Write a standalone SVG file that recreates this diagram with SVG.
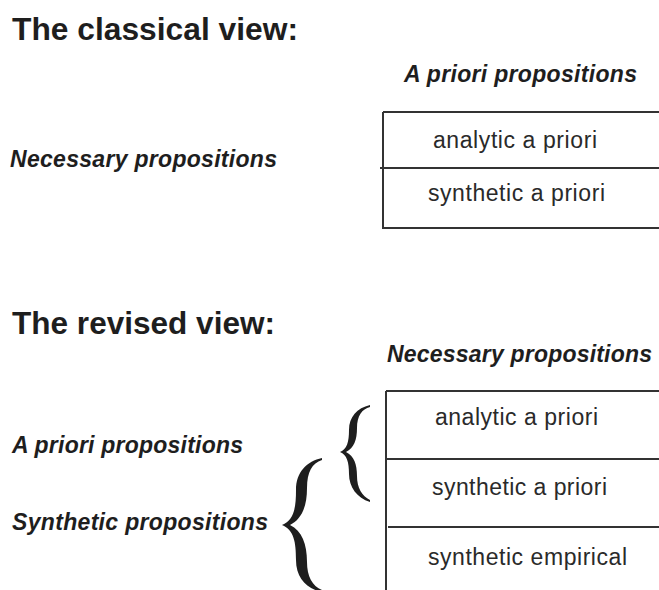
<svg xmlns="http://www.w3.org/2000/svg" width="659" height="590" viewBox="0 0 659 590">
<style>
.h{font-family:"Liberation Sans",Arial,sans-serif;font-weight:bold;font-size:32px;fill:#1e1e1e}
.l{font-family:"Liberation Sans",Arial,sans-serif;font-weight:bold;font-style:italic;font-size:23px;fill:#1e1e1e}
.c{font-family:"Liberation Sans",Arial,sans-serif;font-size:23px;fill:#2a2a2a}
.ln{stroke:#333;stroke-width:2;fill:none}
.br{fill:#1e1e1e;stroke:none}
</style>
<rect width="659" height="590" fill="#fff"/>
<g id="classical">
  <text id="title-classical" class="h" x="12" y="40" textLength="286" lengthAdjust="spacingAndGlyphs">The classical view:</text>
  <text id="label-apriori-top" class="l" x="404" y="82" textLength="233" lengthAdjust="spacing">A priori propositions</text>
  <text id="label-necessary-left" class="l" x="10" y="167" textLength="267" lengthAdjust="spacing">Necessary propositions</text>
  <g id="box-classical">
    <path class="ln" d="M383 112 V229 M383 112 H659 M380 168 H659 M383 228 H659"/>
    <text class="c" x="433" y="148" textLength="164" lengthAdjust="spacing">analytic a priori</text>
    <text class="c" x="428" y="201" textLength="177" lengthAdjust="spacing">synthetic a priori</text>
  </g>
</g>
<g id="revised">
  <text id="title-revised" class="h" x="12" y="334" textLength="263" lengthAdjust="spacingAndGlyphs">The revised view:</text>
  <text id="label-necessary-top" class="l" x="387" y="362" textLength="265" lengthAdjust="spacing">Necessary propositions</text>
  <text id="label-apriori-left" class="l" x="12" y="453" textLength="231" lengthAdjust="spacing">A priori propositions</text>
  <text id="label-synthetic-left" class="l" x="12" y="530" textLength="256" lengthAdjust="spacing">Synthetic propositions</text>
  <g id="box-revised">
    <path class="ln" d="M386 391 V590 M386 391 H659 M386 459 H659 M388 527 H659"/>
    <text class="c" x="435" y="425" textLength="163" lengthAdjust="spacing">analytic a priori</text>
    <text class="c" x="432" y="495" textLength="175" lengthAdjust="spacing">synthetic a priori</text>
    <text class="c" x="428" y="565" textLength="199" lengthAdjust="spacing">synthetic empirical</text>
  </g>
</g>
<g id="connectors">
  <path id="brace-small" class="br" d="M370 405 C357 408 349 417 349 430 C349 442 347 449 340 452 C347 455 349 462 349 474 C349 487 357 498 370 502 L370 500 C362 496 357 488 357 476 C357 464 354 456 346 452 C354 448 357 440 357 428 C357 416 362 409 370 407 Z"/>
  <path id="brace-large" class="br" d="M322 458 C307 461 296 472 296 490 C296 508 294 520 282 525 C294 530 296 542 296 560 C296 578 307 589 322 592 L322 590 C312 586 307 576 307 562 C307 544 302 531 290 525 C302 519 307 506 307 488 C307 472 312 463 322 460 Z"/>
</g>
</svg>
